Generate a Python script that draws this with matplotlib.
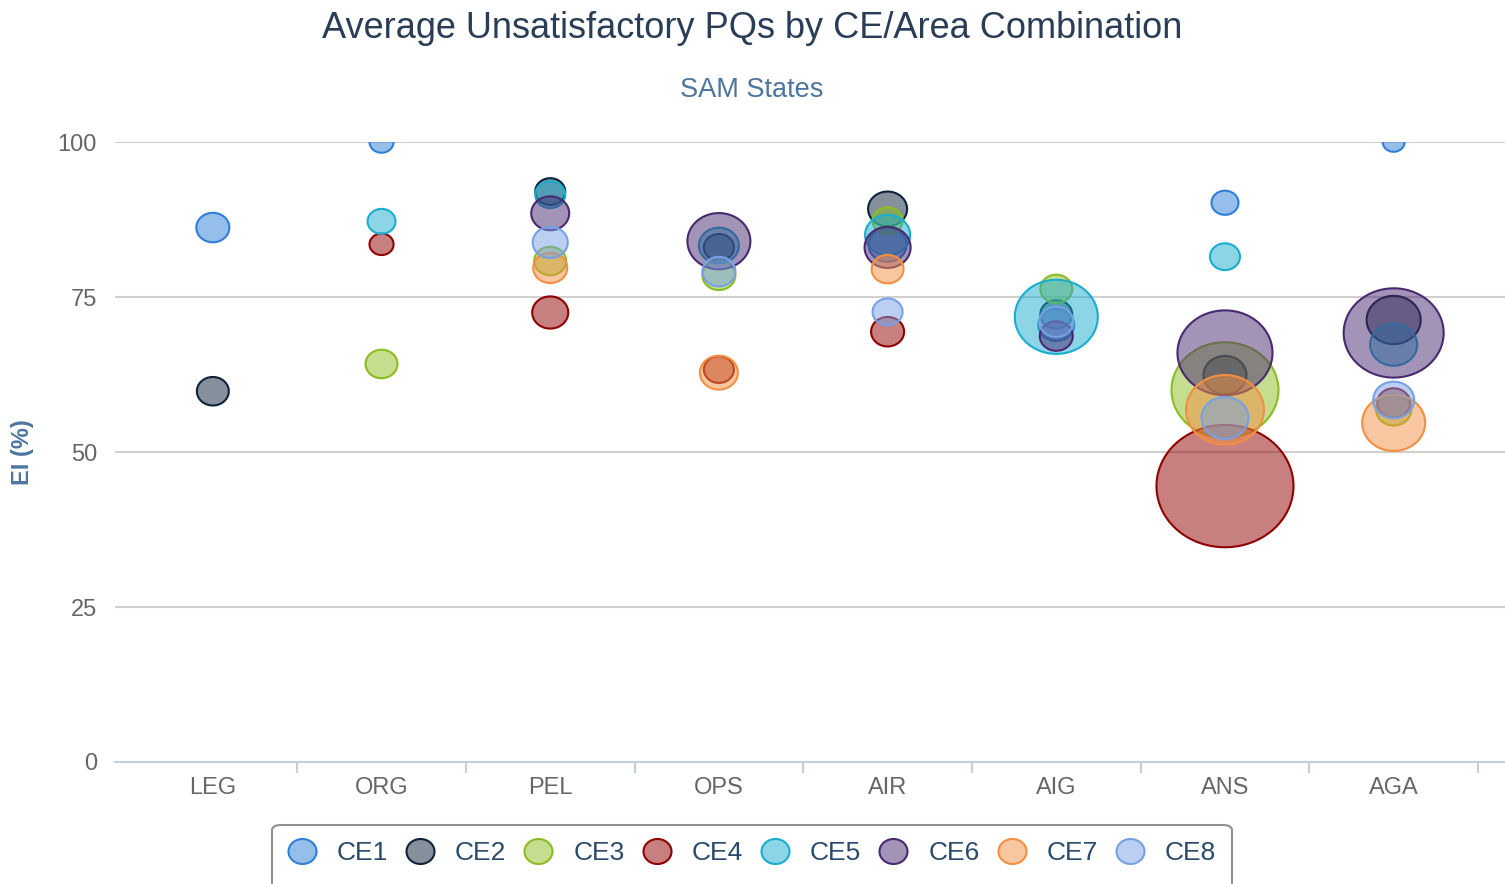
import numpy as np
import matplotlib
matplotlib.use("Agg")
import matplotlib.pyplot as plt
from matplotlib.path import Path
from matplotlib.colors import to_rgba
from matplotlib.patches import FancyBboxPatch
from matplotlib.lines import Line2D

plt.rcParams['font.family'] = ['Liberation Sans', 'DejaVu Sans']

AREAS = ["LEG", "ORG", "PEL", "OPS", "AIR", "AIG", "ANS", "AGA"]
SERIES = ["CE1", "CE2", "CE3", "CE4", "CE5", "CE6", "CE7", "CE8"]

# EI (%) per area, None = no bubble
ce1_ei = [86.2, 100.0, None, None, 83.4, 70.5, 90.2, 100.0]
ce2_ei = [59.8, None, 92.0, 83.0, 89.2, 72.2, 62.4, 71.3]
ce3_ei = [None, 64.2, 80.8, 78.5, 87.3, 76.3, 60.0, 56.8]
ce4_ei = [None, 83.5, 72.5, 63.3, 69.4, None, 44.5, 57.9]
ce5_ei = [None, 87.2, 91.5, 83.3, 85.0, 71.8, 81.5, 67.3]
ce6_ei = [None, None, 88.5, 84.0, 83.0, 68.7, 66.0, 69.2]
ce7_ei = [None, None, 79.7, 62.8, 79.5, None, 56.8, 54.7]
ce8_ei = [None, None, 83.8, 79.1, 72.6, 71.0, 55.5, 58.4]

# bubble z (number of unsatisfactory PQs)
ce1_z = [10.9, 5.8, None, None, 14.4, 13.0, 7.3, 4.8]
ce2_z = [10.2, None, 9.0, 9.0, 15.2, 10.2, 18.5, 29.2]
ce3_z = [None, 10.2, 10.2, 10.9, 9.0, 10.2, 114.5, 12.3]
ce4_z = [None, 5.8, 13.0, 9.0, 10.9, None, 187.7, 10.9]
ce5_z = [None, 7.8, 9.0, 16.0, 20.3, 68.9, 9.0, 22.1]
ce6_z = [None, None, 14.4, 39.7, 21.2, 10.9, 90.3, 100.0]
ce7_z = [None, None, 11.6, 14.4, 10.2, None, 60.8, 39.7]
ce8_z = [None, None, 12.3, 10.9, 9.0, 11.6, 22.1, 16.8]

ei_data = [ce1_ei, ce2_ei, ce3_ei, ce4_ei, ce5_ei, ce6_ei, ce7_ei, ce8_ei]
z_data = [ce1_z, ce2_z, ce3_z, ce4_z, ce5_z, ce6_z, ce7_z, ce8_z]

COLORS = ['#2f7ed8', '#0d233a', '#8bbc21', '#910000',
          '#1aadce', '#492970', '#f28f43', '#77a1e5']

# slightly wide ellipse marker (source chart is stretched horizontally)
t = np.linspace(0, 2 * np.pi, 120)
ELLIPSE = Path(np.column_stack([np.cos(t), np.sin(t) / 1.12]))

W, H = 1505, 884
fig = plt.figure(figsize=(W / 100, H / 100), dpi=100)
ax = fig.add_axes([115 / W, (H - 762) / H, (W - 115) / W, 620 / H])


def bubble_area(z):
    # diameter in px grows with sqrt(z)
    d_pt = 10.0 * np.sqrt(z) * 0.72
    return d_pt ** 2


for name, ei, zz, col in zip(SERIES, ei_data, z_data, COLORS):
    xs = [i for i, v in enumerate(ei) if v is not None]
    ys = [ei[i] for i in xs]
    ss = [bubble_area(zz[i]) for i in xs]
    ax.scatter(xs, ys, s=ss, marker=ELLIPSE, facecolors=to_rgba(col, 0.5),
               edgecolors=col, linewidths=1.5, zorder=3)

ax.set_xlim(-0.58, 7.66)
ax.set_ylim(0, 100)
ax.set_yticks([0, 25, 50, 75, 100])
ax.set_yticklabels(["0", "25", "50", "75", "100"])
ax.set_xticks(range(len(AREAS)))
ax.set_xticklabels(AREAS)
ax.set_xticks(np.arange(0.5, 8, 1), minor=True)
ax.tick_params(axis='x', which='major', length=0, pad=11, labelsize=17, labelcolor='#666666')
ax.tick_params(axis='x', which='minor', length=8, width=1.5, color='#C0D0E0', direction='out')
ax.tick_params(axis='y', length=0, pad=13, labelsize=17, labelcolor='#666666')

for v in [25, 50, 75, 100]:
    ax.axhline(v, color='#d0d0d0', lw=1.5, zorder=1)
for sp in ['top', 'right', 'left']:
    ax.spines[sp].set_visible(False)
ax.spines['bottom'].set_color('#C0D0E0')
ax.spines['bottom'].set_linewidth(1.5)

fig.text(752 / W, 1 - 29 / H, "Average Unsatisfactory PQs by CE/Area Combination",
         ha='center', va='center', fontsize=26, color='#2a3d56')
fig.text(752 / W, 1 - 90 / H, "SAM States", ha='center', va='center',
         fontsize=19.5, color='#4d759e')
fig.text(22 / W, 1 - 452 / H, "EI (%)", rotation=90, ha='center', va='center',
         fontsize=17, fontweight='bold', color='#4d759e')

# legend
box = FancyBboxPatch((272 / W, -20 / H), 960 / W, (H - 825 + 20) / H,
                     boxstyle="round,pad=0,rounding_size=0.006",
                     transform=fig.transFigure, facecolor='none',
                     edgecolor='#909090', lw=1.5)
fig.patches.append(box)
handles = [Line2D([], [], ls='none', marker=ELLIPSE, markersize=28 * 0.72,
                  markerfacecolor=to_rgba(c, 0.5), markeredgecolor=c,
                  markeredgewidth=1.5) for c in COLORS]
leg = fig.legend(handles, SERIES, loc='center', bbox_to_anchor=(752 / W, 1 - 853 / H),
                 ncol=8, frameon=False, fontsize=19, handlelength=1.06,
                 handletextpad=0.8, columnspacing=0.68)
for txt in leg.get_texts():
    txt.set_color('#2a4a6b')

fig.savefig("out.png", dpi=100, facecolor='white')
